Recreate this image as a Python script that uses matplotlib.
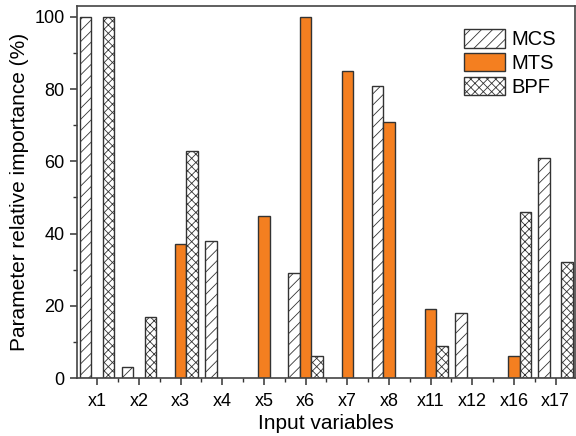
import numpy as np
import matplotlib
matplotlib.use("Agg")
from matplotlib import pyplot as plt
from matplotlib.ticker import MultipleLocator

categories = ["x1", "x2", "x3", "x4", "x5", "x6", "x7", "x8", "x11", "x12", "x16", "x17"]
mcs = [100, 3, 0, 38, 0, 29, 0, 81, 0, 18, 0, 61]
mts = [0, 0, 37, 0, 45, 100, 85, 71, 19, 0, 6, 0]
bpf = [100, 17, 63, 0, 0, 6, 0, 0, 9, 0, 46, 32]

plt.rcParams["font.family"] = ["Liberation Sans", "DejaVu Sans"]
plt.rcParams["hatch.linewidth"] = 0.6
plt.rcParams["hatch.color"] = "#555555"

fig = plt.figure(figsize=(5.76, 4.36), dpi=100)
ax = fig.add_axes([0.134, 0.133, 0.864, 0.853])

x = np.arange(len(categories))
w = 0.275
edge = "#333333"

def nonzero(vals):
    return [v if v > 0 else np.nan for v in vals]

ax.bar(x - w, nonzero(mcs), w, facecolor="white", edgecolor=edge,
       hatch="///", linewidth=1.0, label="MCS")
ax.bar(x, nonzero(mts), w, facecolor="#F47F20", edgecolor=edge,
       linewidth=1.0, label="MTS")
ax.bar(x + w, nonzero(bpf), w, facecolor="white", edgecolor=edge,
       hatch="xxxx", linewidth=1.0, label="BPF")

ax.set_xlim(-0.48, 11.46)
ax.set_ylim(0, 103)
ax.set_xticks(x)
ax.set_xticklabels(categories)
ax.xaxis.set_minor_locator(MultipleLocator(1, offset=0.5))
ax.yaxis.set_major_locator(MultipleLocator(20))
ax.yaxis.set_minor_locator(MultipleLocator(10))

ax.tick_params(which="major", direction="out", length=5, width=1.1,
               color="#333333", labelsize=13, pad=4)
ax.tick_params(axis="x", which="major", pad=6)
ax.tick_params(which="minor", direction="out", length=3, width=1.0,
               color="#333333")

for s in ax.spines.values():
    s.set_color("#444444")
    s.set_linewidth(1.2)

ax.set_xlabel("Input variables", fontsize=15, labelpad=3)
ax.set_ylabel("Parameter relative importance (%)", fontsize=15, labelpad=4)

ax.legend(loc="upper right", bbox_to_anchor=(0.99, 0.975), frameon=False,
          fontsize=14.5, handlelength=2.05, handleheight=1.0,
          labelspacing=0.2, handletextpad=0.3, borderaxespad=0.3)

fig.savefig("out.png", dpi=100)
